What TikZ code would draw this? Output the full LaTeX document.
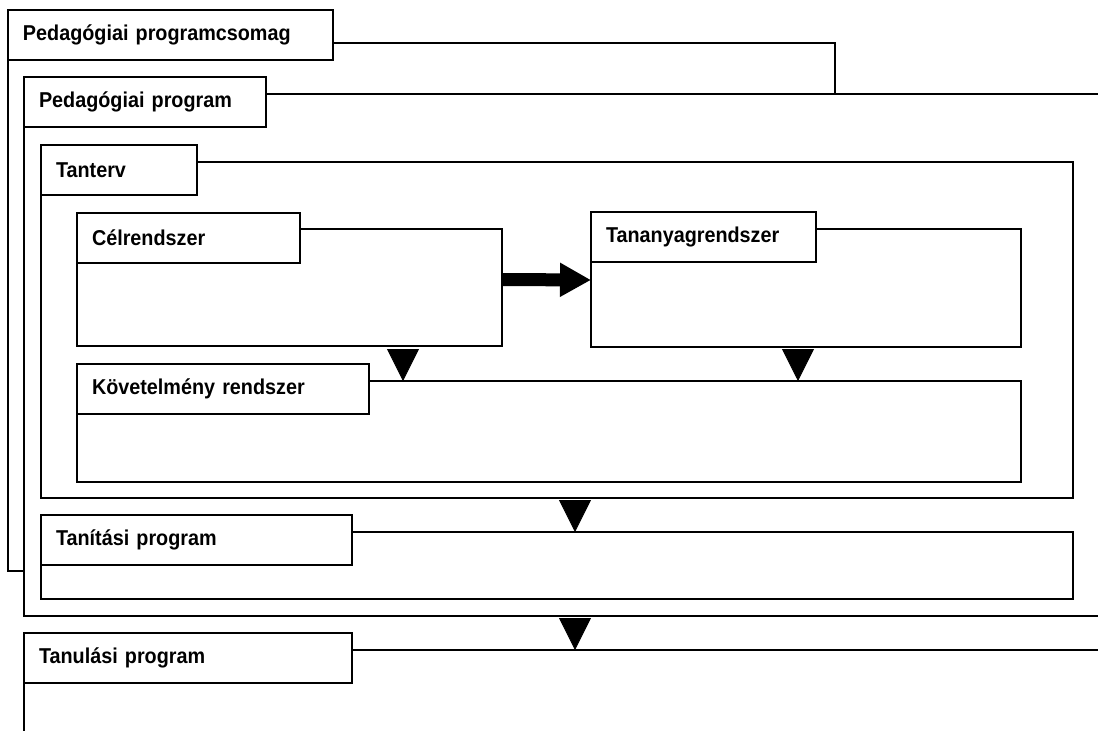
\documentclass[tikz,border=0pt]{standalone}
\usepackage{fontspec}
\setmainfont[FakeStretch=0.92]{Liberation Sans}
\usetikzlibrary{calc,arrows.meta}

\begin{document}
\begin{tikzpicture}[x=1pt,y=-1pt,
    vonal/.style={black, line width=1.6pt},
    keret/.style={vonal, draw, anchor=north west, inner sep=0pt, outer sep=0pt},
    cim/.style={vonal, draw, fill=white, anchor=north west, minimum height=50pt,
        inner xsep=15pt, inner ysep=0pt, outer sep=0pt, align=left,
        font=\fontsize{21.5}{25}\selectfont\bfseries},
    lefele/.style={black, line width=0.8pt, -{Triangle[length=32pt,width=32pt]}},
    vastag/.style={black, line width=13pt, -{Triangle[length=31pt,width=32pt]}}]
    \useasboundingbox (0,0) rectangle (1098,731);

    \node[keret, minimum width=1032pt, minimum height=336pt] (tantervk) at (41,162) {};
    \node[keret, minimum width=425pt, minimum height=117pt] (celk) at (77,229) {};
    \node[keret, minimum width=430pt, minimum height=118pt] (tananyagk) at (591,229) {};
    \node[keret, minimum width=944pt, minimum height=101pt] (kovetk) at (77,381) {};
    \node[keret, minimum width=1032pt, minimum height=67pt] (tanitask) at (41,532) {};

    \node[cim, text width=295pt] (csomag) at (8,10) {Pedagógiai programcsomag};
    \node[cim, text width=212pt] (pedprog) at (24,77) {Pedagógiai program};
    \node[cim, text width=126pt] (tanterv) at (41,145) {Tanterv};
    \node[cim, text width=193pt] (cel) at (77,213) {Célrendszer};
    \node[cim, text width=195pt] (tananyag) at (591,212) {Tananyagrendszer};
    \node[cim, text width=262pt] (kovet) at (77,364) {Követelmény rendszer};
    \node[cim, text width=281pt] (tanitas) at (41,515) {Tanítási program};
    \node[cim, text width=298pt] (tanulas) at (24,633) {Tanulási program};

    \draw[vonal] ($(csomag.north east)+(0,33)$) -| (835,94);
    \draw[vonal] (csomag.south west) |- (24,571);
    \draw[vonal] ($(pedprog.north east)+(0,17)$) -- (1098,94);
    \draw[vonal] (pedprog.south west) |- (1098,616);
    \draw[vonal] ($(tanulas.north east)+(0,17)$) -- (1098,650);
    \draw[vonal] (tanulas.south west) -- (24,731);

    \draw[vastag] ([yshift=8pt]celk.east) -- ([yshift=8pt]tananyagk.west);

    \coordinate (h1) at (403,349);
    \coordinate (h2) at (798,349);
    \coordinate (h3) at (575,500);
    \coordinate (h4) at (575,618);
    \draw[lefele] (h1) -- (h1 |- kovetk.north);
    \draw[lefele] (h2) -- (h2 |- kovetk.north);
    \draw[lefele] (h3) -- (h3 |- tanitask.north);
    \draw[lefele] (h4) -- ++(0,32);
\end{tikzpicture}
\end{document}
